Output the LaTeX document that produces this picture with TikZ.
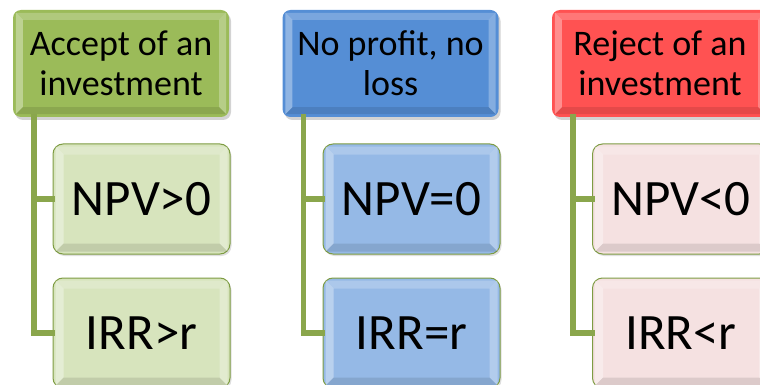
\documentclass[tikz,border=0pt]{standalone}
\usepackage{fontspec}
\setmainfont{Carlito}
\usetikzlibrary{shadows}
\definecolor{gHead}{HTML}{9BBB59}
\definecolor{bHead}{HTML}{558ED5}
\definecolor{rHead}{HTML}{FF5252}
\definecolor{gChild}{HTML}{D7E4BD}
\definecolor{bChild}{HTML}{95B9E6}
\definecolor{rChild}{HTML}{F5E1E1}
\definecolor{edgeG}{HTML}{7E9C43}
\definecolor{connG}{HTML}{8AA64C}
\tikzset{
  headbox/.style={rounded corners=8pt, minimum width=216pt, minimum height=107pt,
    inner sep=0pt, align=center, font=\fontsize{36}{40}\selectfont,
    drop shadow={shadow xshift=2pt, shadow yshift=-3pt, opacity=.35}},
  childbox/.style={rounded corners=10pt, minimum width=177pt, minimum height=110pt,
    inner sep=0pt, align=center, font=\fontsize{51}{60}\selectfont,
    draw=edgeG, line width=1pt,
    drop shadow={shadow xshift=1.5pt, shadow yshift=-2pt, opacity=.25}},
  conn/.style={draw=connG, line width=5.5pt, line cap=rect}
}
\newcommand{\bevelbox}[2]{%
  \coordinate (o1) at ([shift={(3pt,-3pt)}]#1.north west);
  \coordinate (o2) at ([shift={(-3pt,-3pt)}]#1.north east);
  \coordinate (o3) at ([shift={(-3pt,3pt)}]#1.south east);
  \coordinate (o4) at ([shift={(3pt,3pt)}]#1.south west);
  \coordinate (i1) at ([shift={(#2,-#2)}]#1.north west);
  \coordinate (i2) at ([shift={(-#2,-#2)}]#1.north east);
  \coordinate (i3) at ([shift={(-#2,#2)}]#1.south east);
  \coordinate (i4) at ([shift={(#2,#2)}]#1.south west);
  \fill[white,opacity=.22] (o1)--(o2)--(i2)--(i1)--cycle;
  \fill[white,opacity=.35] (o1)--(i1)--(i4)--(o4)--cycle;
  \fill[white,opacity=.28] (o2)--(o3)--(i3)--(i2)--cycle;
  \fill[black,opacity=.10] (o4)--(i4)--(i3)--(o3)--cycle;
}
\begin{document}
\begin{tikzpicture}[x=1pt,y=-1pt]
\useasboundingbox (0,0) rectangle (760,385);
\clip (0,0) rectangle (760,385);
% column 1
\node[headbox, fill=gHead] (h1) at (121,63.5) {Accept of an\\investment};
\node[childbox, fill=gChild] (a1) at (141.5,199) {NPV>0};
\node[childbox, fill=gChild] (a2) at (141.5,333) {IRR>r};
% column 2
\node[headbox, fill=bHead] (h2) at (390.5,63.5) {No profit, no\\loss};
\node[childbox, fill=bChild] (b1) at (411.5,199) {NPV=0};
\node[childbox, fill=bChild] (b2) at (411.5,333) {IRR=r};
% column 3
\node[headbox, fill=rHead] (h3) at (660,63.5) {Reject of an\\investment};
\node[childbox, fill=rChild] (c1) at (681,199) {NPV<0};
\node[childbox, fill=rChild] (c2) at (681,333) {IRR<r};
% bevels
\bevelbox{h1}{10pt}\bevelbox{h2}{10pt}\bevelbox{h3}{10pt}
\bevelbox{a1}{11pt}\bevelbox{a2}{11pt}
\bevelbox{b1}{11pt}\bevelbox{b2}{11pt}
\bevelbox{c1}{11pt}\bevelbox{c2}{11pt}
% connectors
\foreach \h/\p/\q in {h1/a1/a2, h2/b1/b2, h3/c1/c2}{
  \draw[conn] ([xshift=21pt]\h.south west) |- (\p.west);
  \draw[conn] ([xshift=21pt]\h.south west) |- (\q.west);
}
\end{tikzpicture}
\end{document}
